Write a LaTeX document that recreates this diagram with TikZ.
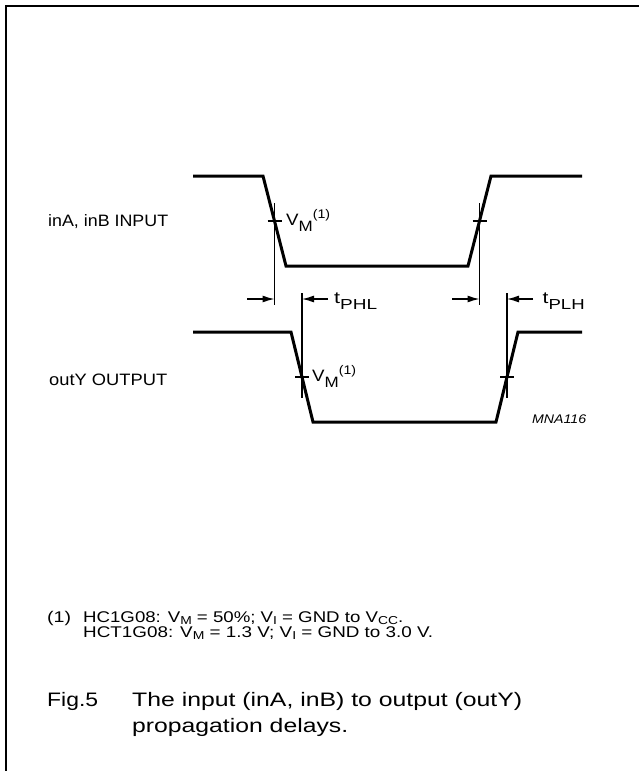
\documentclass[tikz,border=0pt]{standalone}
\usepackage{fontspec}
\usepackage{graphicx}
\setmainfont{Liberation Sans}
\usetikzlibrary{arrows.meta}
\newcommand\fitw[2]{\resizebox{#1}{\height}{#2}}
\newcommand\vmlabel{V\raisebox{-6pt}{\fontsize{15}{15}\selectfont M}\raisebox{7pt}{\fontsize{12.5}{13}\selectfont (1)}}
\newcommand\tlabel[1]{t\raisebox{-6.5pt}{\fontsize{14.5}{15}\selectfont #1}}
\newcommand\fsub[1]{\raisebox{-2.5pt}{\fontsize{11.5}{12}\selectfont #1}}
\begin{document}
\begin{tikzpicture}[x=1pt,y=-1pt,
  wave/.style={line width=3pt,line join=miter},
  thinline/.style={line width=1.1pt},
  dimarrow/.style={line width=1.3pt,-{Latex[length=12pt,width=7pt]}},
  lbl/.style={anchor=base west,inner sep=0pt,font=\fontsize{16.5}{19}\selectfont},
  notetext/.style={anchor=base west,inner sep=0pt,font=\fontsize{15.5}{18}\selectfont},
  captext/.style={anchor=base west,inner sep=0pt,font=\fontsize{19.5}{23}\selectfont},
  frameline/.style={line width=2pt}]
\useasboundingbox (0,0) rectangle (639,771);
% frame
\draw[frameline] (6,771) -- (6,6) -- (639,6);
% waveform corner coordinates
\coordinate (i0) at (193,176); \coordinate (i1) at (263,176);
\coordinate (i2) at (286,266); \coordinate (i3) at (468,266);
\coordinate (i4) at (491,176); \coordinate (i5) at (582,176);
\coordinate (o0) at (193,332); \coordinate (o1) at (291,332);
\coordinate (o2) at (313,422); \coordinate (o3) at (496,422);
\coordinate (o4) at (518,332); \coordinate (o5) at (582,332);
\draw[wave] (i0) -- (i1) -- (i2) -- (i3) -- (i4) -- (i5);
\draw[wave] (o0) -- (o1) -- (o2) -- (o3) -- (o4) -- (o5);
% crossing points
\coordinate (ciF) at (274.5,221); \coordinate (ciR) at (479.5,221);
\coordinate (coF) at (302,377);   \coordinate (coR) at (507,377);
% reference verticals
\coordinate (viFt) at (274.5,203); \coordinate (viFb) at (274.5,305);
\coordinate (viRt) at (479.5,203); \coordinate (viRb) at (479.5,305);
\coordinate (voFt) at (302,293);   \coordinate (voFb) at (302,398);
\coordinate (voRt) at (507,293);   \coordinate (voRb) at (507,398);
\draw[thinline] (viFt) -- (viFb);
\draw[thinline] (viRt) -- (viRb);
\draw[thinline] (voFt) -- (voFb);
\draw[thinline] (voRt) -- (voRb);
% tick marks
\draw[thinline] ([xshift=-7pt]ciF) -- ([xshift=7pt]ciF);
\draw[thinline] ([xshift=-7pt]ciR) -- ([xshift=7pt]ciR);
\draw[thinline] ([xshift=-7pt]coF) -- ([xshift=7pt]coF);
\draw[thinline] ([xshift=-7pt]coR) -- ([xshift=7pt]coR);
% dimension arrows
\coordinate (a1s) at (247,299); \coordinate (a1e) at (274.5,299);
\coordinate (a2s) at (328,299); \coordinate (a2e) at (302,299);
\coordinate (a3s) at (452,299); \coordinate (a3e) at (479.5,299);
\coordinate (a4s) at (533,299); \coordinate (a4e) at (507,299);
\draw[dimarrow] (a1s) -- (a1e);
\draw[dimarrow] (a2s) -- (a2e);
\draw[dimarrow] (a3s) -- (a3e);
\draw[dimarrow] (a4s) -- (a4e);
% labels
\node[lbl] (lin) at (48,226) {\fitw{120pt}{inA, inB INPUT}};
\node[lbl] (lout) at (49,385) {\fitw{118pt}{outY OUTPUT}};
\node[lbl] (vmi) at (286,225) {\fitw{44pt}{\vmlabel}};
\node[lbl] (vmo) at (312,381.5) {\fitw{44pt}{\vmlabel}};
\node[lbl] (tphl) at (334,303.3) {\fitw{43pt}{\tlabel{PHL}}};
\node[lbl] (tplh) at (542.5,303.3) {\fitw{42pt}{\tlabel{PLH}}};
\node[anchor=base west,inner sep=0pt,font=\fontsize{12.5}{15}\selectfont\itshape] (mna) at (532,423) {\fitw{54pt}{MNA116}};
% footnote
\node[notetext] (fn) at (47,622) {\fitw{24pt}{(1)}};
\node[notetext] (fn1) at (83,622) {\fitw{320pt}{HC1G08: V\fsub{M} = 50\%; V\fsub{I} = GND to V\fsub{CC}.}};
\node[notetext] (fn2) at (83,637) {\fitw{350pt}{HCT1G08: V\fsub{M} = 1.3 V; V\fsub{I} = GND to 3.0 V.}};
% caption
\node[captext] (fig) at (47,706) {\fitw{51pt}{Fig.5}};
\node[captext] (c1) at (132,706) {\fitw{390pt}{The input (inA, inB) to output (outY)}};
\node[captext] (c2) at (132,732) {\fitw{216pt}{propagation delays.}};
\end{tikzpicture}
\end{document}
